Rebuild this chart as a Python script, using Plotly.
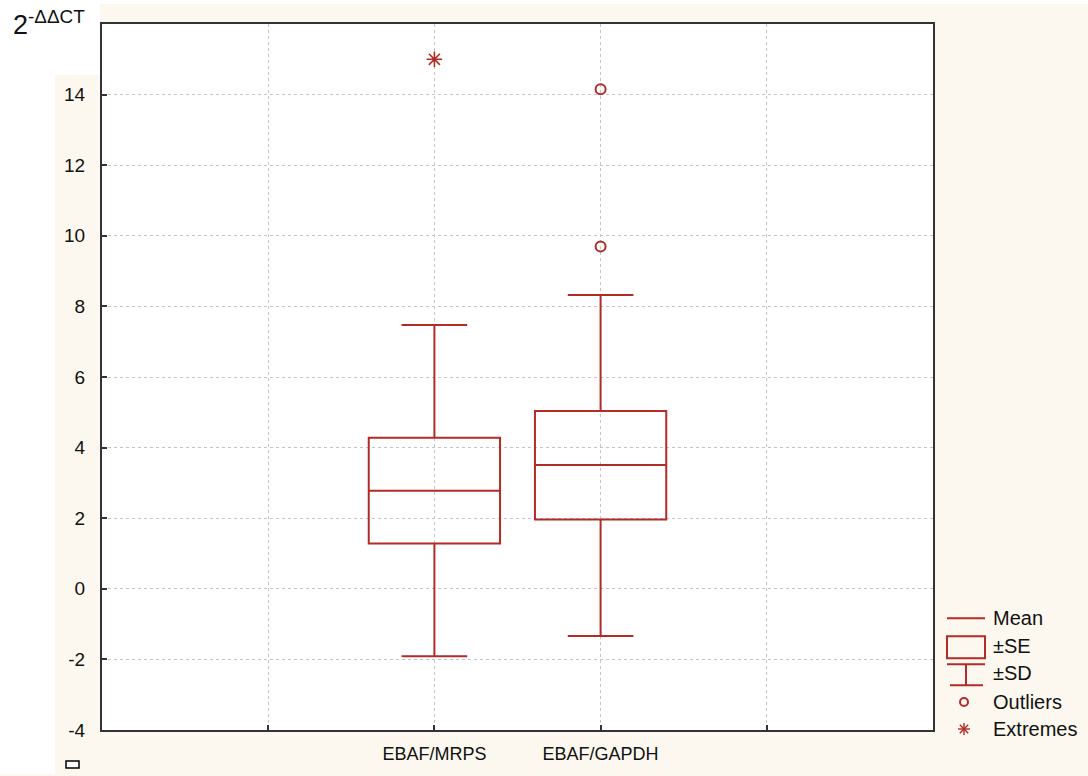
import plotly.graph_objects as go

# ---------------- data ----------------
categories = ["EBAF/MRPS", "EBAF/GAPDH"]
means = [2.78, 3.51]
se_low = [1.28, 1.96]
se_high = [4.28, 5.04]
sd_low = [-1.91, -1.34]
sd_high = [7.47, 8.32]
outlier_cat = ["EBAF/GAPDH", "EBAF/GAPDH"]
outlier_vals = [9.70, 14.15]
extreme_cat = ["EBAF/MRPS"]
extreme_vals = [15.0]
y_ticks = [-4, -2, 0, 2, 4, 6, 8, 10, 12, 14]
legend_labels = ["Mean", "±SE", "±SD", "Outliers", "Extremes"]

# ---------------- styling ----------------
RED = "#B22B26"
CREAM = "#FCF8EF"
FONT = "Arial, Liberation Sans, sans-serif"
FIG_W, FIG_H = 1088, 776
L, R, T, B = 102, 933, 24, 732
PW, PH = R - L, B - T

cat_pos = {c: i + 2 for i, c in enumerate(categories)}
xs = [cat_pos[c] for c in categories]


def px(x):
    return (x - L) / PW


def py(y):
    return (B - y) / PH


fig = go.Figure()

fig.add_trace(go.Box(
    x=xs, q1=se_low, median=means, q3=se_high,
    lowerfence=sd_low, upperfence=sd_high,
    width=0.79, whiskerwidth=0.5,
    fillcolor="rgba(255,255,255,0)",
    line=dict(color=RED, width=2),
    boxpoints=False, showlegend=False, hoverinfo="y",
))

fig.add_trace(go.Scatter(
    x=[cat_pos[c] for c in outlier_cat], y=outlier_vals, mode="markers",
    marker=dict(symbol="circle-open", size=10, color=RED, line=dict(width=2, color=RED)),
    showlegend=False,
))
fig.add_trace(go.Scatter(
    x=[cat_pos[c] for c in extreme_cat], y=extreme_vals, mode="markers",
    marker=dict(symbol="asterisk-open", size=13, color=RED, line=dict(width=1.6, color=RED)),
    showlegend=False,
))

shapes = []
# white areas outside the cream panel
for (x0, y0, x1, y1) in [(0, 0, 55, FIG_H), (55, 0, 100, 75), (100, 0, FIG_W, 4)]:
    shapes.append(dict(type="rect", xref="paper", yref="paper",
                       x0=px(x0), x1=px(x1), y0=py(y0), y1=py(y1),
                       fillcolor="white", line=dict(width=0), layer="below"))
# small square bottom-left
shapes.append(dict(type="rect", xref="paper", yref="paper",
                   x0=px(66), x1=px(79), y0=py(763), y1=py(770),
                   fillcolor="white", line=dict(color="black", width=1.5)))

# custom legend
lw = dict(color=RED, width=2)


def seg(x0, y0, x1, y1, width=2):
    shapes.append(dict(type="line", xref="paper", yref="paper",
                       x0=px(x0), y0=py(y0), x1=px(x1), y1=py(y1),
                       line=dict(color=RED, width=width)))


seg(947, 620, 985, 620)  # mean
shapes.append(dict(type="rect", xref="paper", yref="paper",
                   x0=px(947), x1=px(985), y0=py(638), y1=py(660), line=lw))
seg(947, 666, 985, 666)
seg(966, 666, 966, 687)
seg(950, 687, 983, 687)
shapes.append(dict(type="circle", xref="paper", yref="paper",
                   x0=px(960), x1=px(968), y0=py(700), y1=py(708), line=lw))
cx, cy, r = 964, 731, 6
seg(cx - r, cy, cx + r, cy, 1.4)
seg(cx, cy - r, cx, cy + r, 1.4)
seg(cx - r * 0.7, cy - r * 0.7, cx + r * 0.7, cy + r * 0.7, 1.4)
seg(cx - r * 0.7, cy + r * 0.7, cx + r * 0.7, cy - r * 0.7, 1.4)

annotations = []
for lab, yy in zip(legend_labels, [620, 648, 675, 704, 731]):
    annotations.append(dict(xref="paper", yref="paper", x=px(991), y=py(yy),
                            text=lab, showarrow=False, xanchor="left", yanchor="middle",
                            font=dict(family=FONT, size=20, color="#111")))
annotations.append(dict(xref="paper", yref="paper", x=px(11), y=py(42),
                        text="2<sup>-ΔΔCT</sup>", showarrow=False,
                        xanchor="left", yanchor="bottom",
                        font=dict(family=FONT, size=27, color="#111")))

fig.update_layout(
    width=FIG_W, height=FIG_H, autosize=False,
    margin=dict(l=L, r=FIG_W - R, t=T, b=FIG_H - B, pad=0),
    paper_bgcolor=CREAM, plot_bgcolor="white",
    shapes=shapes, annotations=annotations, showlegend=False,
    font=dict(family=FONT, size=19, color="#111"),
)
grid = dict(showgrid=True, gridcolor="#c4c4c4", griddash="dot", gridwidth=1)
fig.update_xaxes(
    range=[0, 5], tickvals=xs, ticktext=categories,
    minor=dict(tickvals=[1, 4], ticks="inside", ticklen=5, tickcolor="#333",
               showgrid=True, gridcolor="#c4c4c4", griddash="dot", gridwidth=1),
    showline=True, mirror=True, linecolor="#333", linewidth=2,
    ticks="inside", ticklen=5, tickcolor="#333", tickwidth=1.5,
    ticklabelstandoff=6, zeroline=False, tickfont=dict(size=18), **grid,
)
fig.update_yaxes(
    range=[-4, 16], tickvals=y_ticks, ticktext=[str(v) for v in y_ticks],
    showline=True, mirror=True, linecolor="#333", linewidth=2,
    ticks="inside", ticklen=5, tickcolor="#333", tickwidth=1.5,
    ticklabelstandoff=11, zeroline=False, tickfont=dict(size=19), **grid,
)

fig.write_html("out.html", config={"displayModeBar": False},
               post_script="document.body.style.margin='0';document.body.style.overflow='hidden';")
